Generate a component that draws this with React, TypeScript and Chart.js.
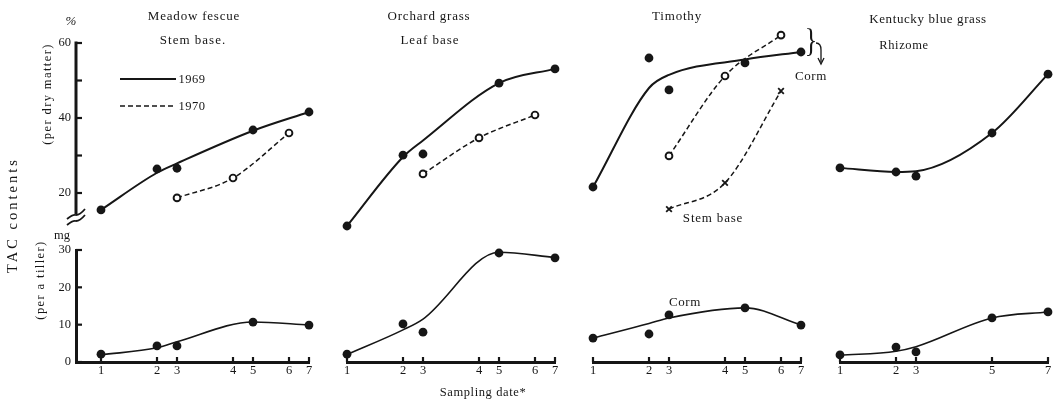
import React, { useEffect, useRef } from 'react';
import { Chart, registerables } from 'chart.js';

Chart.register(...registerables);

// ---------------- data ----------------
// sampling dates 1..7, as days after the first sampling (unequal spacing)
const samplingDays = [0, 14, 19, 33, 38, 47, 52];
const dateLabels = ['1', '2', '3', '4', '5', '6', '7'];

const dates1969 = [1, 2, 3, 5, 7];
const dates1970 = [3, 4, 6];
const allDates = [1, 2, 3, 4, 5, 6, 7];
const kentuckyDates = [1, 2, 3, 5, 7];

// TAC % of dry matter ticks, mg per tiller ticks
const percentTicks = [20, 30, 40, 50, 60];
const percentAxisEnds = [14.4, 60]; // drawn part of the broken % axis
const mgTicks = [0, 10, 20, 30];

// Meadow fescue – stem base
const fescueStem1969 = [15.5, 26.4, 26.6, 36.8, 41.6];
const fescueStem1969Fit = [15.5, 25.4, 27.9, 36.6, 41.6];
const fescueStem1970 = [18.7, 24.0, 36.0];
const fescueTiller = [2.1, 4.3, 4.3, 10.7, 9.9];
const fescueTillerFit = [1.9, 3.8, 5.4, 10.7, 9.9];

// Orchard grass – leaf base
const orchardLeaf1969 = [11.2, 30.1, 30.4, 49.3, 53.1];
const orchardLeaf1969Fit = [11.2, 29.6, 34.0, 49.3, 53.1];
const orchardLeaf1970 = [25.1, 34.7, 40.8];
const orchardTiller = [2.1, 10.2, 8.0, 29.2, 27.9];
const orchardTillerFit = [2.0, 8.6, 11.5, 29.4, 28.0];

// Timothy – corm / stem base
const timothyCorm1969 = [21.6, 56.0, 47.5, 54.7, 57.6];
const timothyCorm1969Fit = [21.6, 48.0, 51.5, 55.6, 57.6];
const timothyCorm1970 = [29.9, 51.2, 62.1];
const timothyStem1970 = [15.7, 22.7, 47.2];
const timothyTiller = [6.4, 7.5, 12.6, 14.5, 9.9];
const timothyTillerFit = [6.4, 10.3, 11.8, 14.5, 9.9];

// Kentucky blue grass – rhizome
const kentuckyRhizome1969 = [26.7, 25.6, 24.5, 36.0, 51.7];
const kentuckyRhizome1969Fit = [26.7, 25.6, 25.8, 36.0, 51.7];
const kentuckyTiller = [1.9, 4.0, 2.7, 11.8, 13.4];
const kentuckyTillerFit = [1.8, 2.9, 4.1, 11.8, 13.4];

// ---------------- styling / layout ----------------
const INK = '#161616';
const FONT = '"Liberation Serif", "DejaVu Serif", serif';
const COL_X0 = [101, 347, 593, 840]; // pixel of date 1 in each column
const PX_PER_DAY = 4;
const SPAN = 52 * PX_PER_DAY;
const Y_AXIS_X = 76;

type Kind = 'fit' | 'fit1970' | 'dot' | 'ring' | 'cross';
type Series = { dates: number[]; values: number[]; kind: Kind };

const pts = (dates: number[], values: number[]) =>
  values.map((v, i) => ({ x: samplingDays[dates[i] - 1], y: v }));

function toDataset(s: Series, isTop: boolean) {
  const data = pts(s.dates, s.values);
  const base: any = { data, clip: false, borderColor: INK };
  if (s.kind === 'fit' || s.kind === 'fit1970') {
    return {
      ...base,
      order: 1,
      borderWidth: s.kind === 'fit' ? (isTop ? 2 : 1.6) : 1.5,
      borderDash: s.kind === 'fit1970' ? [5, 3] : [],
      pointRadius: 0,
      cubicInterpolationMode: 'monotone',
      fill: false,
    };
  }
  const common = { ...base, order: 0, showLine: false };
  if (s.kind === 'dot')
    return { ...common, pointStyle: 'circle', pointRadius: 4.4, pointBackgroundColor: INK, pointBorderColor: INK, pointBorderWidth: 0 };
  if (s.kind === 'ring')
    return { ...common, pointStyle: 'circle', pointRadius: 3.4, pointBackgroundColor: '#fff', pointBorderColor: INK, pointBorderWidth: 1.9 };
  return { ...common, pointStyle: 'crossRot', pointRadius: 4, pointBorderColor: INK, pointBorderWidth: 1.8 };
}

const inwardTicks = {
  id: 'inwardTicks',
  afterDraw(chart: any) {
    const { ctx, chartArea } = chart;
    const xs = chart.scales.x;
    const ys = chart.scales.y;
    ctx.save();
    ctx.strokeStyle = INK;
    ctx.lineWidth = 2.2;
    if (ys.options.display) {
      for (const t of ys.ticks) {
        const p = ys.getPixelForValue(t.value);
        ctx.beginPath();
        ctx.moveTo(chartArea.left, p);
        ctx.lineTo(chartArea.left + 6, p);
        ctx.stroke();
      }
    }
    if (xs.options.display) {
      for (const t of xs.ticks) {
        const p = xs.getPixelForValue(t.value);
        ctx.beginPath();
        ctx.moveTo(p, chartArea.bottom);
        ctx.lineTo(p, chartArea.bottom - 5);
        ctx.stroke();
      }
    }
    ctx.restore();
  },
};

// broken % axis: the axis line only from 60 down to the break, plus break marks
const brokenAxis = {
  id: 'brokenAxis',
  afterDraw(chart: any) {
    const { ctx, chartArea } = chart;
    const ys = chart.scales.y;
    const x = chartArea.left;
    const yTop = ys.getPixelForValue(percentAxisEnds[1]);
    const yBot = ys.getPixelForValue(percentAxisEnds[0]);
    ctx.save();
    ctx.strokeStyle = INK;
    ctx.lineWidth = 3;
    ctx.beginPath();
    ctx.moveTo(x, yTop - 1.5);
    ctx.lineTo(x, yBot);
    ctx.stroke();
    ctx.lineWidth = 1.8;
    for (const dy of [0, 6]) {
      ctx.beginPath();
      ctx.moveTo(x - 9, yBot + dy + 5);
      ctx.quadraticCurveTo(x - 3, yBot + dy, x, yBot + dy + 1);
      ctx.quadraticCurveTo(x + 4, yBot + dy + 1, x + 9, yBot + dy - 5);
      ctx.stroke();
    }
    ctx.restore();
  },
};

type PanelSpec = {
  col: number;
  row: 'top' | 'bottom';
  series: Series[];
  xDates: number[];
};

// top row: 64 % at y = 28, 10 % at y = 230.5 (3.75 px per %)
// bottom row: 30 mg at y = 250, 0 mg at y = 362
const TOP_CANVAS = { top: 0, height: 255, areaTop: 28, areaBottom: 230.5 };
const BOT_CANVAS = { top: 225, height: 181, areaTop: 250, areaBottom: 362 };

function geometry(p: PanelSpec) {
  const x0 = COL_X0[p.col];
  const left = p.col === 0 ? 0 : x0 - 20;
  const right = x0 + SPAN + 18;
  const c = p.row === 'top' ? TOP_CANVAS : BOT_CANVAS;
  return { x0, left, width: right - left, top: c.top, height: c.height, c };
}

function buildConfig(p: PanelSpec) {
  const g = geometry(p);
  const isFirst = p.col === 0;
  const isTop = p.row === 'top';
  const yTicks = isTop ? percentTicks : mgTicks;
  const tickFont = { family: FONT, size: 12.5 };
  const c = g.c;
  const xAxisHeight = isTop ? 0 : c.top + c.height - c.areaBottom;
  return {
    type: 'line',
    data: { datasets: p.series.map((s) => toDataset(s, isTop)) },
    options: {
      animation: false,
      responsive: false,
      maintainAspectRatio: false,
      events: [],
      layout: {
        padding: {
          left: isFirst ? 0 : g.x0 - g.left,
          right: 18,
          top: c.areaTop - c.top,
          bottom: isTop ? c.top + c.height - c.areaBottom : 0,
        },
      },
      plugins: { legend: { display: false }, tooltip: { enabled: false }, title: { display: false } },
      scales: {
        x: {
          type: 'linear',
          min: isFirst ? (Y_AXIS_X - g.x0) / PX_PER_DAY : 0,
          max: 52,
          display: !isTop,
          grid: { display: false, drawTicks: false },
          border: { display: true, width: 3, color: INK },
          ticks: {
            font: tickFont,
            color: INK,
            padding: 1,
            autoSkip: false,
            maxRotation: 0,
            callback: (v: number) => dateLabels[samplingDays.indexOf(v)] ?? '',
          },
          afterBuildTicks: (s: any) => {
            s.ticks = p.xDates.map((d) => ({ value: samplingDays[d - 1] }));
          },
          afterFit: (s: any) => {
            s.height = xAxisHeight;
          },
        },
        y: {
          type: 'linear',
          min: isTop ? 10 : 0,
          max: isTop ? 64 : 30,
          display: isFirst,
          grid: { display: false, drawTicks: false },
          border: { display: !isTop, width: 3, color: INK },
          ticks: {
            font: tickFont,
            color: INK,
            padding: 5,
            autoSkip: false,
            callback: (v: number) => (isTop ? (v % 20 === 0 ? String(v) : '') : String(v)),
          },
          afterBuildTicks: (s: any) => {
            s.ticks = yTicks.map((v) => ({ value: v }));
          },
          afterFit: (s: any) => {
            s.width = isFirst ? Y_AXIS_X : 0;
          },
        },
      },
    },
    plugins: isFirst && isTop ? [inwardTicks, brokenAxis] : [inwardTicks],
  };
}

const panels: PanelSpec[] = [
  {
    col: 0, row: 'top', xDates: allDates,
    series: [
      { dates: dates1969, values: fescueStem1969, kind: 'dot' },
      { dates: dates1970, values: fescueStem1970, kind: 'ring' },
      { dates: dates1969, values: fescueStem1969Fit, kind: 'fit' },
      { dates: dates1970, values: fescueStem1970, kind: 'fit1970' },
    ],
  },
  {
    col: 0, row: 'bottom', xDates: allDates,
    series: [
      { dates: dates1969, values: fescueTiller, kind: 'dot' },
      { dates: dates1969, values: fescueTillerFit, kind: 'fit' },
    ],
  },
  {
    col: 1, row: 'top', xDates: allDates,
    series: [
      { dates: dates1969, values: orchardLeaf1969, kind: 'dot' },
      { dates: dates1970, values: orchardLeaf1970, kind: 'ring' },
      { dates: dates1969, values: orchardLeaf1969Fit, kind: 'fit' },
      { dates: dates1970, values: orchardLeaf1970, kind: 'fit1970' },
    ],
  },
  {
    col: 1, row: 'bottom', xDates: allDates,
    series: [
      { dates: dates1969, values: orchardTiller, kind: 'dot' },
      { dates: dates1969, values: orchardTillerFit, kind: 'fit' },
    ],
  },
  {
    col: 2, row: 'top', xDates: allDates,
    series: [
      { dates: dates1969, values: timothyCorm1969, kind: 'dot' },
      { dates: dates1970, values: timothyCorm1970, kind: 'ring' },
      { dates: dates1970, values: timothyStem1970, kind: 'cross' },
      { dates: dates1969, values: timothyCorm1969Fit, kind: 'fit' },
      { dates: dates1970, values: timothyCorm1970, kind: 'fit1970' },
      { dates: dates1970, values: timothyStem1970, kind: 'fit1970' },
    ],
  },
  {
    col: 2, row: 'bottom', xDates: allDates,
    series: [
      { dates: dates1969, values: timothyTiller, kind: 'dot' },
      { dates: dates1969, values: timothyTillerFit, kind: 'fit' },
    ],
  },
  {
    col: 3, row: 'top', xDates: kentuckyDates,
    series: [
      { dates: dates1969, values: kentuckyRhizome1969, kind: 'dot' },
      { dates: dates1969, values: kentuckyRhizome1969Fit, kind: 'fit' },
    ],
  },
  {
    col: 3, row: 'bottom', xDates: kentuckyDates,
    series: [
      { dates: dates1969, values: kentuckyTiller, kind: 'dot' },
      { dates: dates1969, values: kentuckyTillerFit, kind: 'fit' },
    ],
  },
];

function Panel({ spec }: { spec: PanelSpec }) {
  const ref = useRef<HTMLCanvasElement>(null);
  const g = geometry(spec);
  useEffect(() => {
    const chart = new Chart(ref.current as HTMLCanvasElement, buildConfig(spec) as any);
    return () => chart.destroy();
  }, []);
  return (
    <canvas
      ref={ref}
      width={g.width}
      height={g.height}
      style={{ position: 'absolute', left: g.left, top: g.top, width: g.width, height: g.height }}
    />
  );
}

type Txt = { text: string; x: number; y: number; size?: number; ls?: number; rot?: boolean; italic?: boolean };
const texts: Txt[] = [
  { text: 'Meadow fescue', x: 194, y: 15, size: 13, ls: 0.8 },
  { text: 'Stem base.', x: 193, y: 39, size: 13, ls: 1.0 },
  { text: 'Orchard grass', x: 429, y: 15, size: 13, ls: 0.8 },
  { text: 'Leaf base', x: 430, y: 39, size: 13, ls: 1.0 },
  { text: 'Timothy', x: 677, y: 15, size: 13, ls: 0.8 },
  { text: 'Kentucky blue grass', x: 928, y: 18, size: 13, ls: 0.6 },
  { text: 'Rhizome', x: 904, y: 45, size: 12.5, ls: 0.6 },
  { text: 'Corm', x: 811, y: 75, size: 13, ls: 0.6 },
  { text: 'Stem base', x: 713, y: 217, size: 13, ls: 0.8 },
  { text: 'Corm', x: 685, y: 301, size: 13, ls: 0.6 },
  { text: '%', x: 71, y: 20, size: 13, italic: true },
  { text: 'mg', x: 62, y: 235, size: 12.5 },
  { text: '1969', x: 192, y: 79, size: 12.5, ls: 0.5 },
  { text: '1970', x: 192, y: 106, size: 12.5, ls: 0.5 },
  { text: 'TAC contents', x: 12, y: 215, size: 14.5, ls: 3, rot: true },
  { text: '(per dry matter)', x: 47, y: 94, size: 12.5, ls: 1.4, rot: true },
  { text: '(per a tiller)', x: 40, y: 280, size: 12.5, ls: 1.4, rot: true },
  { text: 'Sampling date*', x: 483, y: 392, size: 12.5, ls: 0.6 },
];

export default function App() {
  return (
    <div
      style={{
        position: 'absolute',
        left: 0,
        top: 0,
        width: 1059,
        height: 406,
        background: '#fff',
        overflow: 'hidden',
      }}
    >
      {panels.map((p, i) => (
        <Panel key={i} spec={p} />
      ))}
      {texts.map((t, i) => (
        <div
          key={'t' + i}
          style={{
            position: 'absolute',
            left: t.x,
            top: t.y,
            transform: `translate(-50%, -50%)${t.rot ? ' rotate(-90deg)' : ''}`,
            fontFamily: FONT,
            fontSize: t.size ?? 12,
            letterSpacing: t.ls ?? 0,
            fontStyle: t.italic ? 'italic' : 'normal',
            color: INK,
            whiteSpace: 'nowrap',
            lineHeight: 1,
          }}
        >
          {t.text}
        </div>
      ))}
      <svg width={1059} height={406} style={{ position: 'absolute', left: 0, top: 0, pointerEvents: 'none' }}>
        <line x1={120} y1={79} x2={176} y2={79} stroke={INK} strokeWidth={2} />
        <line x1={120} y1={106} x2={176} y2={106} stroke={INK} strokeWidth={1.5} strokeDasharray="5 3" />
        <path d="M 816 43 Q 821 43 821 50 L 821 62" fill="none" stroke={INK} strokeWidth={1.3} />
        <path d="M 818 58 L 821 64 L 824 58" fill="none" stroke={INK} strokeWidth={1.3} />
      </svg>
      <div
        style={{
          position: 'absolute',
          left: 811,
          top: 41,
          transform: 'translate(-50%, -50%) scaleY(1.3)',
          fontFamily: FONT,
          fontSize: 26,
          color: INK,
          lineHeight: 1,
        }}
      >
        {'}'}
      </div>
    </div>
  );
}
